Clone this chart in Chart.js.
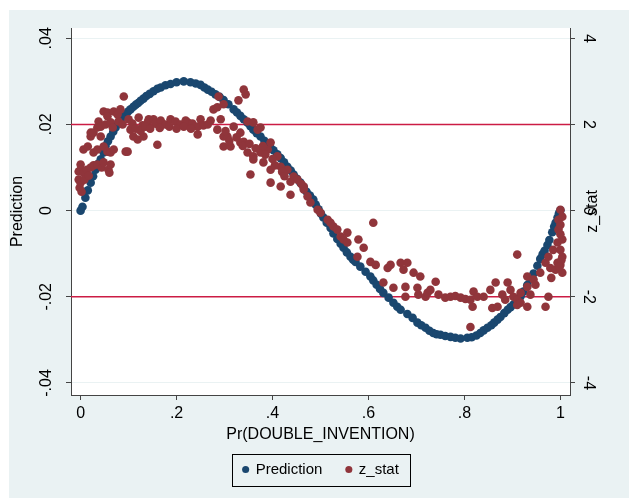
<!DOCTYPE html>
<html>
<head>
<meta charset="utf-8">
<script src="https://cdn.jsdelivr.net/npm/chart.js@4.4.1/dist/chart.umd.min.js"></script>
<style>
    body { margin: 0; background: #fff; }
    #wrap { width: 629px; height: 500px; }
</style>
</head>
<body>
<div id="wrap"><canvas id="myScatter"></canvas></div>
<script>
// values
const predX = [
    0, 0.004, 0.010, 0.015, 0.021, 0.026, 0.031, 0.036, 0.042, 0.048,
    0.052, 0.057, 0.0625, 0.068, 0.073, 0.078, 0.083, 0.089, 0.094, 0.099,
    0.104, 0.110, 0.115, 0.120, 0.125, 0.131, 0.137, 0.144, 0.152, 0.160,
    0.167, 0.177, 0.1875, 0.200, 0.215, 0.229, 0.240, 0.250, 0.258, 0.265,
    0.273, 0.281, 0.290, 0.298, 0.308, 0.319, 0.326, 0.333, 0.340, 0.348,
    0.354, 0.360, 0.367, 0.375, 0.383, 0.390, 0.396, 0.402, 0.410, 0.417,
    0.424, 0.431, 0.438, 0.444, 0.451, 0.458, 0.465, 0.471, 0.478, 0.485,
    0.490, 0.496, 0.501, 0.506, 0.513, 0.521, 0.527, 0.535, 0.542, 0.548,
    0.555, 0.5625, 0.568, 0.573, 0.583, 0.594, 0.604, 0.610, 0.617, 0.624,
    0.631, 0.642, 0.652, 0.660, 0.667, 0.681, 0.692, 0.702, 0.710, 0.719,
    0.727, 0.735, 0.742, 0.750, 0.760, 0.771, 0.781, 0.792, 0.806, 0.815,
    0.825, 0.833, 0.840, 0.848, 0.856, 0.862, 0.869, 0.875, 0.883, 0.890,
    0.896, 0.902, 0.910, 0.917, 0.923, 0.931, 0.9375, 0.944, 0.952, 0.958,
    0.963, 0.967, 0.973, 0.977, 0.983, 0.987, 0.990, 0.994, 0.997, 1.0
];
const predY = [
    0, 0.0009, 0.0030, 0.0047, 0.0065, 0.0080, 0.0095, 0.0108, 0.0119, 0.0135,
    0.0150, 0.0161, 0.0172, 0.0183, 0.0193, 0.0203, 0.0212, 0.0218, 0.0223, 0.0230,
    0.0235, 0.0241, 0.0246, 0.0250, 0.0255, 0.0260, 0.0266, 0.0271, 0.0277, 0.0283,
    0.0286, 0.0291, 0.0294, 0.0298, 0.0300, 0.0298, 0.0295, 0.0292, 0.0286, 0.0281,
    0.0276, 0.0270, 0.0264, 0.0257, 0.0247, 0.0235, 0.0228, 0.0220, 0.0212, 0.0204,
    0.0196, 0.0188, 0.0180, 0.0172, 0.0162, 0.0153, 0.0146, 0.0140, 0.0131, 0.0122,
    0.0112, 0.0102, 0.0093, 0.0084, 0.0074, 0.0065, 0.0054, 0.0044, 0.0035, 0.0026,
    0.0014, 0.0003, -0.0007, -0.0016, -0.0028, -0.0040, -0.0053, -0.0066, -0.0077, -0.0086,
    -0.0097, -0.0107, -0.0114, -0.0119, -0.0130, -0.0142, -0.0153, -0.0162, -0.0172, -0.0182,
    -0.0191, -0.0202, -0.0214, -0.0223, -0.0230, -0.0240, -0.0249, -0.0260, -0.0266, -0.0272,
    -0.0279, -0.0284, -0.0287, -0.0288, -0.0291, -0.0293, -0.0295, -0.0297, -0.0295, -0.0294,
    -0.0290, -0.0284, -0.0278, -0.0272, -0.0266, -0.0260, -0.0253, -0.0247, -0.0238, -0.0230,
    -0.0224, -0.0218, -0.0210, -0.0199, -0.0188, -0.0173, -0.0160, -0.0146, -0.0128, -0.0112,
    -0.0101, -0.0093, -0.0080, -0.0068, -0.0050, -0.0037, -0.0028, -0.0016, -0.0006, 0.0001
];

const zX = [
    -0.004, -0.004, -0.002, 0.0, 0.0, 0.002, 0.0, 0.006, 0.008, 0.013,
    0.017, 0.021, 0.027, 0.035, 0.044, 0.048, 0.058, 0.06, 0.0625, 0.006,
    0.015, 0.021, 0.021, 0.027, 0.027, 0.035, 0.035, 0.0375, 0.042, 0.042,
    0.048, 0.048, 0.052, 0.056, 0.056, 0.056, 0.0625, 0.0625, 0.067, 0.069,
    0.069, 0.077, 0.079, 0.083, 0.0875, 0.090, 0.094, 0.098, 0.1, 0.104,
    0.108, 0.110, 0.119, 0.121, 0.129, 0.131, 0.140, 0.142, 0.152, 0.156,
    0.160, 0.167, 0.177, 0.1875, 0.198, 0.208, 0.219, 0.223, 0.233, 0.244,
    0.244, 0.25, 0.256, 0.265, 0.271, 0.277, 0.285, 0.285, 0.2875, 0.292,
    0.298, 0.298, 0.298, 0.306, 0.3125, 0.319, 0.329, 0.333, 0.333, 0.340,
    0.340, 0.344, 0.348, 0.348, 0.354, 0.360, 0.360, 0.360, 0.369, 0.375,
    0.375, 0.381, 0.390, 0.396, 0.396, 0.396, 0.410, 0.417, 0.417, 0.431,
    0.4375, 0.4375, 0.444, 0.452, 0.465, 0.465, 0.473, 0.479, 0.494, 0.5,
    0.515, 0.521, 0.527, 0.535, 0.542, 0.548, 0.556, 0.556, 0.579, 0.590,
    0.577, 0.610, 0.604, 0.615, 0.631, 0.640, 0.646, 0.652, 0.667, 0.673,
    0.681, 0.677, 0.677, 0.694, 0.702, 0.704, 0.708, 0.719, 0.723, 0.729,
    0.740, 0.746, 0.760, 0.771, 0.781, 0.792, 0.802, 0.8125, 0.8125, 0.817,
    0.819, 0.827, 0.840, 0.854, 0.858, 0.865, 0.869, 0.879, 0.885, 0.890,
    0.896, 0.902, 0.910, 0.910, 0.910, 0.917, 0.917, 0.931, 0.931, 0.931,
    0.9375, 0.944, 0.948, 0.958, 0.969, 0.969, 0.975, 0.975, 0.979, 0.981,
    0.985, 0.99, 0.994, 0.994, 0.996, 0.996, 1.0, 1.0, 1.0, 1.0,
    1.004, 1.004, 1.004, 1.004, 1.0, 1.002, 0.998, 0.302, 0.31, 0.325,
    0.338, 0.352, 0.365, 0.38, 0.385, 0.40, 0.405, 0.42, 0.425, 0.46,
    0.115, 0.125, 0.135, 0.145, 0.165, 0.185, 0.2, 0.215, 0.23
];
const zY = [
    0.91, 0.72, 0.53, 1.07, 0.65, 0.44, 0.95, 0.88, 0.72, 0.95,
    0.81, 1.0, 1.05, 1.07, 1.0, 1.12, 0.95, 0.88, 1.07, 1.42,
    1.49, 1.72, 1.81, 1.81, 1.35, 1.42, 1.93, 2.07, 1.72, 1.95,
    2.30, 1.49, 2.0, 2.28, 2.19, 1.37, 2.05, 1.35, 1.93, 2.30,
    1.42, 2.23, 2.07, 2.35, 2.0, 2.65, 1.37, 1.37, 2.12, 1.88,
    2.02, 1.72, 1.65, 2.16, 1.98, 1.72, 2.05, 2.12, 2.12, 2.02,
    1.53, 2.09, 2.0, 2.12, 2.07, 2.0, 2.09, 2.05, 2.02, 1.95,
    1.77, 2.12, 1.98, 2.0, 2.09, 2.35, 2.40, 1.88, 2.65, 2.12,
    2.47, 1.72, 1.49, 1.72, 1.49, 1.95, 2.56, 1.81, 1.58, 2.81,
    1.60, 2.70, 2.07, 1.35, 0.84, 2.05, 1.26, 1.19, 1.88, 1.93,
    1.35, 1.12, 1.42, 1.58, 0.95, 0.65, 1.26, 1.02, 0.56, 0.95,
    0.67, 0.37, 0.79, 0.72, 0.56, 0.49, 0.33, 0.19, 0.02, -0.05,
    -0.21, -0.28, -0.37, -0.44, -0.60, -0.67, -0.51, -0.74, -0.67, -0.86,
    -1.07, -0.28, -1.19, -1.26, -1.67, -1.33, -1.26, -1.79, -1.21, -1.37,
    -1.21, -1.77, -2.0, -1.44, -1.79, -1.95, -1.53, -2.0, -1.91, -1.84,
    -1.65, -1.95, -2.02, -2.0, -1.98, -2.02, -2.05, -2.07, -2.70, -2.23,
    -1.88, -2.0, -2.0, -1.84, -2.26, -1.67, -2.23, -1.95, -2.07, -1.67,
    -1.84, -2.0, -1.02, -2.07, -2.19, -1.91, -2.14, -1.77, -1.53, -2.23,
    -1.95, -1.60, -1.72, -1.44, -1.21, -2.23, -1.07, -2.0, -1.33, -1.56,
    -0.91, -1.37, -0.74, -1.21, -0.44, -0.21, 0.02, -0.33, -0.91, -1.26,
    -0.14, -0.67, -1.07, -1.44, -0.55, -1.15, -1.30, 1.85, 1.62, 1.70,
    1.50, 1.55, 1.45, 1.50, 1.30, 1.20, 1.05, 0.90, 0.80, 0.62,
    1.90, 1.85, 1.95, 1.90, 1.92, 1.95, 1.90, 1.95, 1.90
];

const xTicks = [0, 0.2, 0.4, 0.6, 0.8, 1];
const xTickLabels = ["0", ".2", ".4", ".6", ".8", "1"];
const predTicks = [-0.04, -0.02, 0, 0.02, 0.04];
const predTickLabels = ["-.04", "-.02", "0", ".02", ".04"];
const zTicks = [-4, -2, 0, 2, 4];
const zTickLabels = ["-4", "-2", "0", "2", "4"];
const zRefLines = [-2, 2];

const font = "'Liberation Sans', Arial, sans-serif";
const axisColor = "#444";

// stata style background: light frame, white plot region
const bgPlugin = {
    id: "bg",
    beforeDraw(chart) {
        const { ctx, width, height, chartArea: a } = chart;
        ctx.save();
        ctx.fillStyle = "#fff";
        ctx.fillRect(0, 0, width, height);
        ctx.fillStyle = "#eaf2f3";
        ctx.fillRect(9, 10, width - 9, height - 12);
        ctx.fillStyle = "#fff";
        ctx.fillRect(a.left, a.top, a.width, a.height);
        ctx.restore();
    },
};

// red reference lines at z = +-2
const refLinePlugin = {
    id: "refLines",
    beforeDatasetsDraw(chart) {
        const { ctx, chartArea: a } = chart;
        const ys = chart.scales.y2;
        ctx.save();
        ctx.strokeStyle = "#cc1c44";
        ctx.lineWidth = 1.6;
        zRefLines.forEach((v) => {
            const y = ys.getPixelForValue(v);
            ctx.beginPath();
            ctx.moveTo(a.left, y);
            ctx.lineTo(a.right, y);
            ctx.stroke();
        });
        ctx.restore();
    },
};

// legend frame + right axis title (reads bottom to top like stata)
const extrasPlugin = {
    id: "extras",
    afterDraw(chart) {
        const { ctx } = chart;
        const boxes = chart.legend.legendHitBoxes;
        if (boxes && boxes.length) {
            const first = boxes[0];
            const last = boxes[boxes.length - 1];
            const midY = first.top + first.height / 2;
            ctx.save();
            ctx.strokeStyle = "#000";
            ctx.lineWidth = 1;
            ctx.strokeRect(Math.round(first.left - 11) + 0.5, Math.round(midY - 16) + 0.5,
                Math.round(last.left + last.width - first.left + 22), 32);
            ctx.restore();
        }
        const ys = chart.scales.y2;
        ctx.save();
        ctx.translate(ys.right - 36, (ys.top + ys.bottom) / 2);
        ctx.rotate(-Math.PI / 2);
        ctx.font = "16px " + font;
        ctx.fillStyle = "#000";
        ctx.textAlign = "center";
        ctx.textBaseline = "middle";
        ctx.fillText("z_stat", 0, 0);
        ctx.restore();
    },
};

const ctx = document.getElementById("myScatter").getContext("2d");
const scatterChart = new Chart(ctx, {
    type: "scatter",
    data: {
        datasets: [
            {
                label: "Prediction",
                data: predX.map((x, i) => ({ x: x, y: predY[i] })),
                backgroundColor: "#1a476f",
                borderWidth: 0,
                pointRadius: 4.3,
                pointHoverRadius: 4.3,
                yAxisID: "y",
                order: 2,
            },
            {
                label: "z_stat",
                data: zX.map((x, i) => ({ x: x, y: zY[i] })),
                backgroundColor: "#90353b",
                borderWidth: 0,
                pointRadius: 4.3,
                pointHoverRadius: 4.3,
                yAxisID: "y2",
                order: 1,
            },
        ],
    },
    options: {
        responsive: true,
        maintainAspectRatio: false,
        animation: false,
        layout: {
            padding: { left: 13, right: 0, top: 28, bottom: 13 },
        },
        plugins: {
            legend: {
                display: true,
                position: "bottom",
                labels: {
                    usePointStyle: true,
                    pointStyle: "circle",
                    boxWidth: 5,
                    boxHeight: 5,
                    padding: 24,
                    color: "#000",
                    font: { family: font, size: 15 },
                    sort: (a, b) => a.datasetIndex - b.datasetIndex,
                },
            },
            tooltip: { enabled: false },
        },
        scales: {
            x: {
                type: "linear",
                min: -0.02,
                max: 1.02,
                afterBuildTicks: (s) => {
                    s.ticks = xTicks.map((v) => ({ value: v }));
                },
                afterFit: (s) => {
                    s.height = s.chart.height - 13 - 395 - s.chart.legend.height;
                },
                ticks: {
                    callback: (v, i) => xTickLabels[i],
                    color: "#000",
                    padding: 4,
                    maxRotation: 0,
                    font: { family: font, size: 16 },
                },
                grid: {
                    drawOnChartArea: false,
                    tickLength: 5,
                    tickColor: axisColor,
                },
                border: { color: axisColor },
                title: {
                    display: true,
                    text: "Pr(DOUBLE_INVENTION)",
                    color: "#000",
                    font: { family: font, size: 16, lineHeight: 1 },
                    padding: { top: 0, bottom: -5 },
                },
            },
            y: {
                type: "linear",
                position: "left",
                min: -0.0428,
                max: 0.0424,
                afterBuildTicks: (s) => {
                    s.ticks = predTicks.map((v) => ({ value: v }));
                },
                afterFit: (s) => {
                    s.width = 58;
                },
                ticks: {
                    callback: (v, i) => predTickLabels[i],
                    color: "#000",
                    minRotation: 90,
                    maxRotation: 90,
                    crossAlign: "center",
                    padding: 6,
                    font: { family: font, size: 16 },
                },
                grid: {
                    color: "#eaf2f3",
                    tickLength: 5,
                    tickColor: axisColor,
                },
                border: { color: axisColor },
                title: {
                    display: true,
                    text: "Prediction",
                    color: "#000",
                    font: { family: font, size: 16, lineHeight: 1 },
                    padding: { top: -3, bottom: 0 },
                },
            },
            y2: {
                type: "linear",
                position: "right",
                min: -4.28,
                max: 4.24,
                afterBuildTicks: (s) => {
                    s.ticks = zTicks.map((v) => ({ value: v }));
                },
                afterFit: (s) => {
                    s.width = 59;
                },
                ticks: {
                    callback: (v, i) => zTickLabels[i],
                    color: "#000",
                    minRotation: -90,
                    maxRotation: -90,
                    crossAlign: "center",
                    padding: 6,
                    font: { family: font, size: 16 },
                },
                grid: {
                    drawOnChartArea: false,
                    tickLength: 5,
                    tickColor: axisColor,
                },
                border: { color: axisColor },
            },
        },
    },
    plugins: [bgPlugin, refLinePlugin, extrasPlugin],
});
</script>
</body>
</html>
